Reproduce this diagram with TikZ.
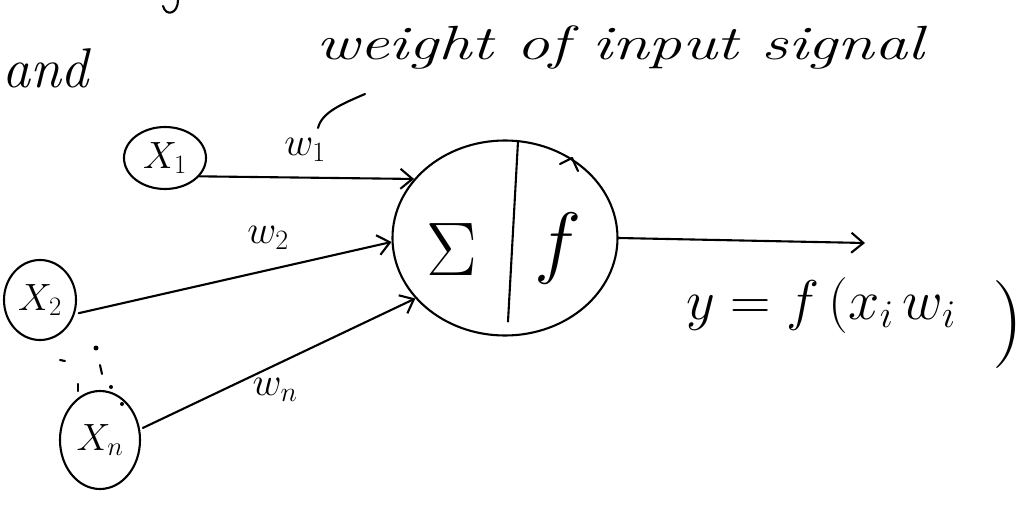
\RequirePackage{fix-cm}
\documentclass[tikz,border=0pt]{standalone}
\usetikzlibrary{arrows.meta,shapes.geometric}
\begin{document}
\begin{tikzpicture}[x=1pt,y=-1pt, line width=2.1pt, line cap=round, line join=round,
  inp/.style={ellipse, draw, inner sep=0pt, font=\fontsize{38}{44}\selectfont},
  wlbl/.style={font=\fontsize{40}{46}\selectfont},
  arr/.style={-{Straight Barb[length=12pt,width=20pt,line width=2.1pt]}}]
\useasboundingbox (0,0) rectangle (1029,511);
% cut-off writing at top
\draw (178,0) .. controls (178,14) and (166,17) .. (163,6);
\node[font=\fontsize{56}{62}\selectfont\itshape, anchor=west, inner sep=0pt] (and) at (1,68) {and};
\node[font=\fontsize{48}{54}\selectfont\itshape] (wtxt) at (620,48) {\scalebox{1.38}[1]{weight of input signal}};
% inputs
\node[inp, minimum width=82pt, minimum height=62pt] (x1) at (165,158) {$X_1$};
\node[inp, minimum width=72pt, minimum height=80pt] (x2) at (40,300) {$X_2$};
\node[inp, minimum width=80pt, minimum height=98pt] (xn) at (100,440) {$X_n$};
% neuron
\node[ellipse, draw, minimum width=225pt, minimum height=195pt] (n) at (505,238) {};
\draw ([xshift=13pt,yshift=-2pt]n.north) -- ([xshift=3pt,yshift=15pt]n.south);
\node[font=\fontsize{76}{90}\selectfont] (sig) at (452,250) {$\Sigma$};
\node[font=\fontsize{80}{90}\selectfont] (f) at (558,248) {$f$};
\draw (560,164) -- (572,158) -- (578,171);
% weights
\node[wlbl] (w1) at (305,150) {$w_1$};
\node[wlbl] (w2) at (268,238) {$w_2$};
\node[wlbl] (wn) at (275,390) {$w_n$};
\coordinate (c1) at (365,94);
\coordinate (c2) at (318,128);
\draw (c1) .. controls (342,104) and (322,112) .. (c2);
% connectors
\draw[arr] (x1.-28) -- (n.147);
\draw[arr, shorten <=4pt] (x2.-22) -- (n.182);
\draw[arr, shorten <=3pt] (xn.15) -- (n.214);
% dots between x2 and xn
\fill (96,348) circle (2.5pt);
\draw (100,365) -- (102,374);
\draw (60,360) -- (65,361);
\draw (78,384) -- (78,391);
\fill (111,387) circle (2pt);
\fill (122,404) circle (2pt);
% output
\coordinate (out) at (865,243);
\draw[arr] (n.east) -- (out);
\node[font=\fontsize{56}{62}\selectfont, anchor=west] (eq) at (682,305) {$y = f\,(x_i\,w_i$};
\node[font=\fontsize{88}{96}\selectfont] (par) at (1008,325) {$)$};
\end{tikzpicture}
\end{document}
